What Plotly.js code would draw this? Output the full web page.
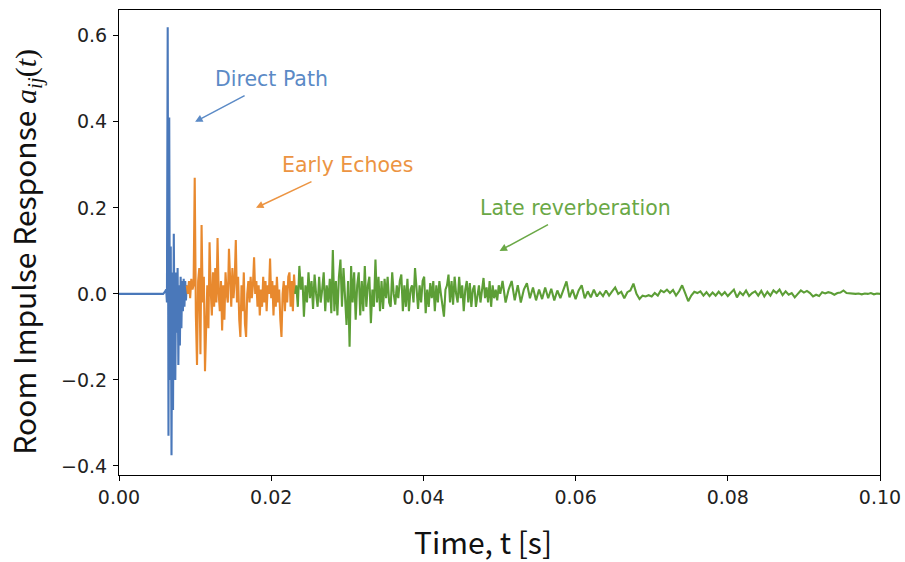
<!DOCTYPE html>
<html><head><meta charset="utf-8">
<script src="https://cdn.plot.ly/plotly-3.0.1.min.js"></script>
<style>html,body{margin:0;padding:0;background:#fff}#chart{width:905px;height:562px}</style>
</head><body><div id="chart"></div>
<script>
// ---- data ----
const leadTime = [0, 0.0058, 0.0060];
const leadValues = [0, 0, 0.004];

const directStart = 0.0061, directStep = 0.0001;
const directValues = [0.006, 0.01, -0.02, 0.62, -0.33, 0.41, -0.2, 0.11, -0.375, 0.05,
  -0.27, 0.14, -0.1, -0.2, 0.05, -0.09, 0.06, -0.165, 0.02, -0.12,
  0.04, -0.08, 0.03, -0.04, 0.035, -0.03, 0.03, -0.015, 0.02];

const earlyStart = 0.0089, earlyStep = 0.00015;
const earlyValues = [0.02, 0.0, 0.03, -0.01, 0.035, 0.01, 0.02, 0.27, -0.05, -0.165,
  0.03, 0.06, -0.14, 0.16, -0.02, 0.04, -0.18, -0.05, 0.02, -0.08,
  0.12, 0.01, -0.05, 0.05, -0.03, 0.06, -0.02, 0.13, 0.0, -0.04,
  0.03, -0.085, 0.02, -0.06, 0.05, 0.0, -0.02, 0.105, 0.01, -0.03,
  0.06, -0.01, 0.03, 0.125, -0.02, 0.04, -0.06, -0.1, 0.02, -0.04,
  0.05, -0.07, -0.1, 0.0, 0.03, -0.02, 0.04, -0.01, 0.02, 0.085,
  0.0, 0.03, -0.03, 0.02, -0.05, 0.01, -0.03, 0.04, -0.02, 0.03,
  -0.04, 0.02, 0.0, 0.082, -0.01, 0.03, -0.05, 0.02, -0.03, 0.04,
  -0.02, 0.01, -0.06, -0.1, 0.0, 0.03, -0.04, 0.02, -0.02, 0.04,
  0.05, -0.03, 0.03, -0.04, 0.045, 0.0];

const lateStartA = 0.0233, lateStepA = 0.0002;
const lateValuesA = [0.02, -0.03, 0.065, 0.01, 0.04, -0.053, 0.02, -0.02, 0.05, -0.01,
  0.03, -0.035, 0.045, 0.0, -0.03, 0.04, -0.02, 0.01, 0.05, -0.04,
  0.02, -0.02, 0.035, -0.045, 0.102, -0.04, 0.03, -0.05, 0.04, 0.08,
  -0.03, 0.06, 0.0, -0.072, 0.03, -0.123, 0.065, -0.02, 0.05, -0.06,
  0.02, 0.05, -0.05, 0.03, -0.04, 0.065, -0.03, 0.02, 0.04, -0.068,
  0.01, -0.03, 0.08, -0.02, 0.04, -0.04, 0.03, -0.035, 0.035, -0.01,
  0.04, -0.02, -0.03, 0.05, 0.0, -0.025, 0.02, -0.01, 0.03, 0.045,
  -0.04, 0.02, -0.03, 0.035, -0.04, 0.01, 0.02, -0.02, 0.06, 0.0,
  -0.035, 0.02, -0.02, 0.03, 0.04, -0.045, 0.01, -0.03, 0.025, -0.01,
  0.03, -0.04, 0.02, -0.02, 0.03, 0.0, -0.03, -0.053, 0.01, 0.02,
  0.045, -0.02, 0.03, -0.025, 0.04, 0.0, -0.02, 0.04, -0.01, 0.02,
  -0.04, 0.01, 0.03, -0.02, 0.025, -0.03, 0.01, 0.02, -0.03, 0.0,
  0.02, -0.02, 0.01, 0.037, -0.01, 0.015, -0.02, 0.03, -0.03, 0.02,
  -0.01, 0.01, -0.015, 0.02, 0.0];

const lateStartB = 0.0504, lateStepB = 0.0004;
const lateValuesB = [0.03, -0.02, 0.01, 0.03, -0.015, 0.02, -0.02, 0.01, 0.025, -0.01,
  0.015, -0.015, 0.01, -0.012, 0.015, -0.01, 0.012, -0.015, 0.008, -0.01,
  0.012, 0.029, -0.008, 0.01, -0.012, 0.008, 0.02, -0.01, 0.006, -0.008,
  0.01, -0.006, 0.004, -0.005, 0.008, -0.004, 0.006, 0.015, 0.0, 0.005,
  -0.01, 0.004, 0.008, 0.024, 0.0, -0.012, -0.004, -0.006, -0.003, -0.006,
  0.002, -0.004, 0.008, 0.004, 0.01, 0.002, 0.009, -0.004, 0.006, 0.02,
  0.002, -0.017, -0.004, 0.005, 0.002, 0.006, -0.004, 0.004, -0.005, 0.003,
  -0.004, 0.005, -0.003, 0.004, -0.005, 0.003, 0.01, -0.008, 0.004, -0.003,
  0.008, -0.005, 0.002, 0.006, -0.004, 0.007, -0.006, 0.005, -0.004, 0.008,
  0.002, 0.01, -0.003, 0.006, -0.002, 0.002, -0.008, 0.0, 0.008, 0.003,
  0.007, 0.002, -0.006, -0.002, -0.005, 0.004, 0.001, 0.004, 0.002, -0.002,
  0.002, 0.003, 0.008, 0.002, 0.001, 0.001, 0.0, 0.001, -0.001, 0.001,
  0.0, 0.002, -0.001, 0.001, 0.0];

const xTickValues = [0, 0.02, 0.04, 0.06, 0.08, 0.10];
const yTickValues = [-0.4, -0.2, 0.0, 0.2, 0.4, 0.6];
const labels = ['Direct Path', 'Early Echoes', 'Late reverberation'];
const labelPos = [[0.02, 0.5], [0.03, 0.3], [0.06, 0.2]];
const arrowHead = [[0.01, 0.4], [0.018, 0.2], [0.05, 0.1]];

// ---- build traces ----
function grid(start, step, n) { const t = []; for (let i = 0; i < n; i++) t.push(+(start + i * step).toFixed(6)); return t; }

const blueX = leadTime.concat(grid(directStart, directStep, directValues.length));
const blueY = leadValues.concat(directValues);
const orangeX = grid(earlyStart, earlyStep, earlyValues.length);
const orangeY = earlyValues.slice();
const greenX = [orangeX[orangeX.length - 1]].concat(grid(lateStartA, lateStepA, lateValuesA.length), grid(lateStartB, lateStepB, lateValuesB.length));
const greenY = [orangeY[orangeY.length - 1]].concat(lateValuesA, lateValuesB);

const C = ['#4a78ba', '#e8892e', '#5c9e36'];
const CT = ['#5b8ac6', '#ec9442', '#6aa846'];

const traces = [
  {x: blueX, y: blueY, mode: 'lines', line: {color: C[0], width: 2.1}, hoverinfo: 'skip'},
  {x: orangeX, y: orangeY, mode: 'lines', line: {color: C[1], width: 2.1}, hoverinfo: 'skip'},
  {x: greenX, y: greenY, mode: 'lines', line: {color: C[2], width: 2.1}, hoverinfo: 'skip'}
];

const arrowOff = [[51, -27], [57, -27], [50, -27]];
const annotations = [];
for (let k = 0; k < 3; k++) {
  annotations.push({x: labelPos[k][0], y: labelPos[k][1], xref: 'x', yref: 'y', text: labels[k], showarrow: false,
    xanchor: 'center', yanchor: 'middle', font: {family: 'DejaVu Sans', size: 20.5, color: CT[k]}});
  annotations.push({x: arrowHead[k][0], y: arrowHead[k][1], xref: 'x', yref: 'y', text: '', showarrow: true,
    ax: arrowOff[k][0], ay: arrowOff[k][1], arrowhead: 2, arrowsize: 1, arrowwidth: 1.5, arrowcolor: CT[k], standoff: 0});
}
annotations.push({xref: 'paper', yref: 'paper', x: 0.478, y: -0.143, xanchor: 'center', yanchor: 'middle', showarrow: false,
  text: 'Time, t [s]', font: {family: 'Noto Sans CJK SC', size: 30, color: '#111'}});
annotations.push({xref: 'paper', yref: 'paper', x: -0.125, y: 0.48, xanchor: 'center', yanchor: 'middle', showarrow: false, textangle: -90,
  text: 'Room Impulse Response <span style="font-family:Liberation Serif"><i>a</i><sub><i>ij</i></sub>(<i>t</i>)</span>',
  font: {family: 'Noto Sans CJK SC', size: 30, color: '#111'}});

const axisCommon = {showline: true, mirror: true, linecolor: '#000', linewidth: 1, ticks: 'outside', ticklen: 5, tickwidth: 1,
  tickcolor: '#000', showgrid: false, zeroline: false, tickfont: {family: 'DejaVu Sans', size: 19, color: '#222'}};

const layout = {
  width: 905, height: 562, margin: {l: 119, r: 25, t: 10, b: 87},
  paper_bgcolor: '#fff', plot_bgcolor: '#fff', showlegend: false,
  xaxis: Object.assign({}, axisCommon, {range: [0, 0.1], tickvals: xTickValues, tickformat: '.2f'}),
  yaxis: Object.assign({}, axisCommon, {range: [-0.421, 0.66], tickvals: yTickValues, tickformat: '.1f', ticklabelstandoff: 2}),
  annotations: annotations
};
Plotly.newPlot('chart', traces, layout, {displayModeBar: false, staticPlot: true});
</script></body></html>
